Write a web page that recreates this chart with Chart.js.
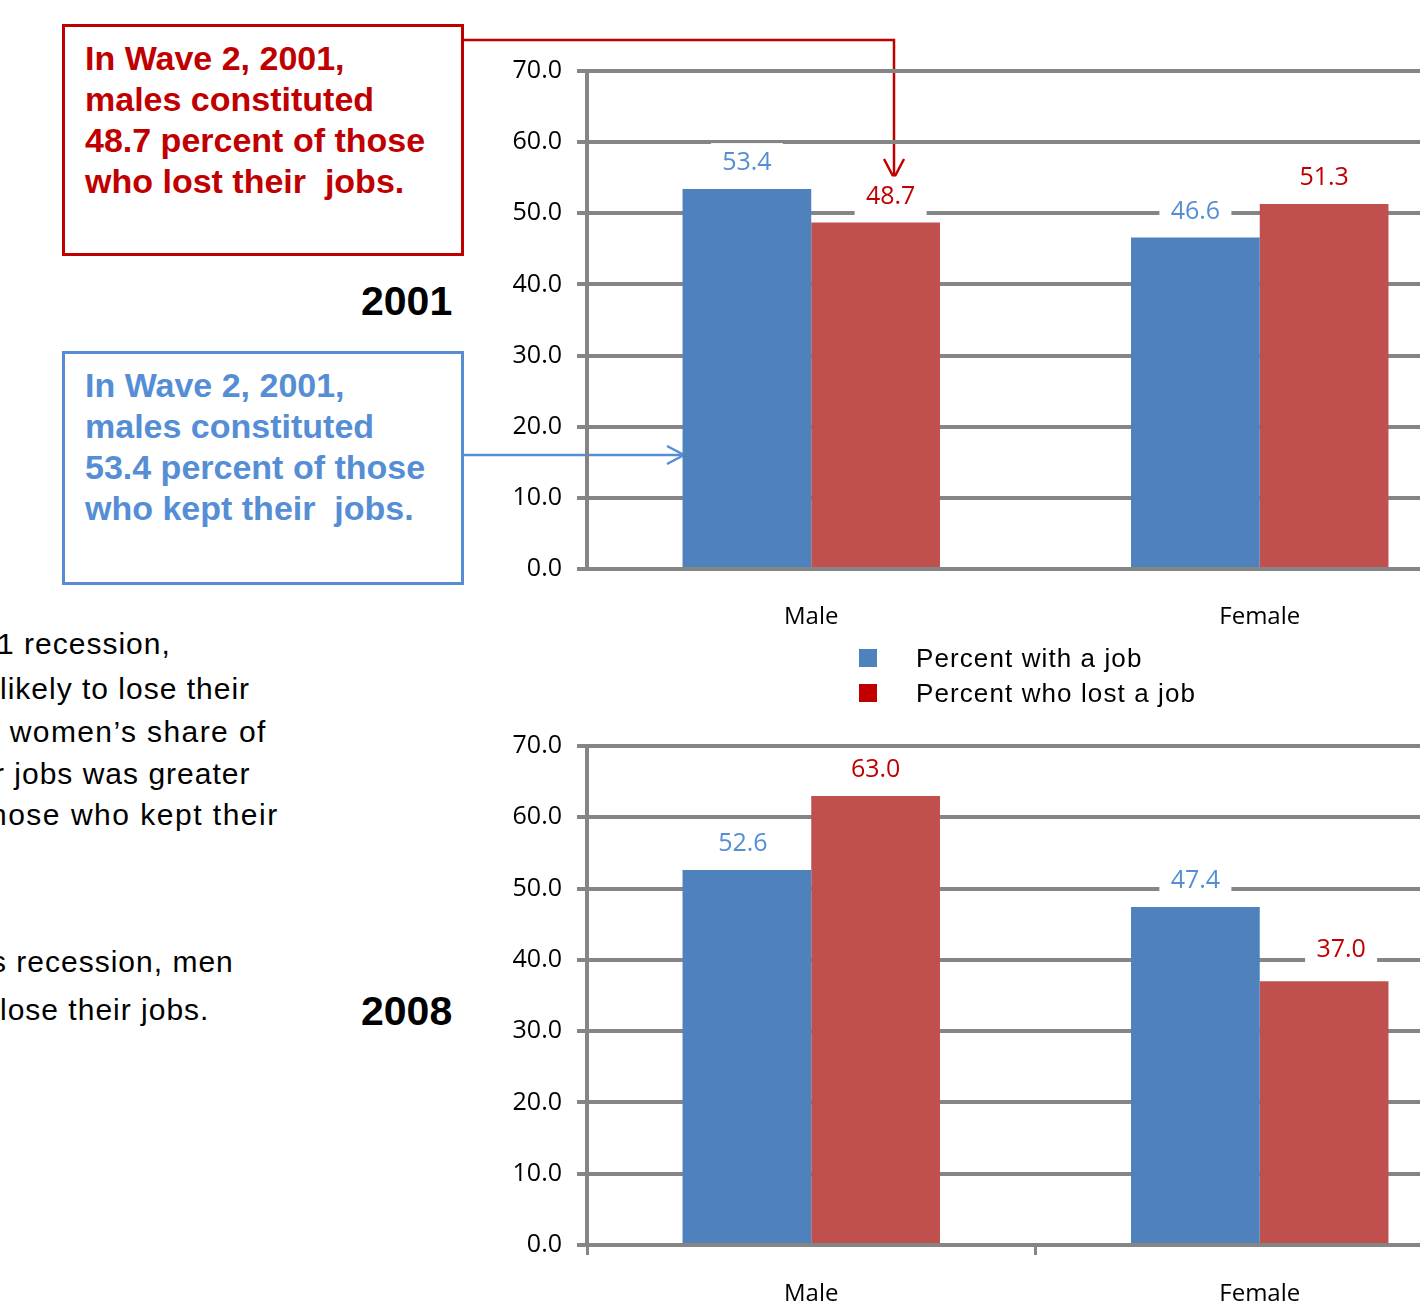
<!DOCTYPE html>
<html>
<head>
<meta charset="utf-8">
<script src="https://cdn.jsdelivr.net/npm/chart.js@4/dist/chart.umd.min.js"></script>
<style>
  html, body { margin: 0; padding: 0; background: #fff; width: 1420px; height: 1303px; overflow: hidden; position: relative; }
  .box { position: absolute; box-sizing: border-box; border: 3px solid; font-family: "Liberation Sans", Arial, sans-serif; font-weight: bold; font-size: 34px; line-height: 41px; padding: 11px 0 0 20px; white-space: nowrap; }
  #boxLost { left: 62px; top: 24px; width: 402px; height: 232px; border-color: #c00000; color: #c00000; }
  #boxKept { left: 62px; top: 351px; width: 402px; height: 234px; border-color: #558ed5; color: #558ed5; }
  .year { position: absolute; font-family: "Liberation Sans", Arial, sans-serif; font-weight: bold; font-size: 41px; color: #000; }
  .para { position: absolute; font-family: "Liberation Sans", Arial, sans-serif; font-size: 30px; letter-spacing: 1px; color: #000; white-space: pre; line-height: 1; }
  canvas.chart { position: absolute; left: 481px; }
  #legend { position: absolute; left: 859px; top: 646px; font-family: "Liberation Sans", Arial, sans-serif; font-size: 26px; letter-spacing: 1.1px; color: #000; }
  #legend .item { position: relative; height: 35px; }
  #legend .sw { position: absolute; left: 0; top: 3px; width: 18px; height: 18px; }
  #legend .tx { position: absolute; left: 57px; top: -3px; white-space: nowrap; }
  svg#ann { position: absolute; left: 0; top: 0; }
</style>
</head>
<body>
<div class="box" id="boxLost">In Wave 2, 2001,<br>males constituted<br>48.7 percent of those<br>who lost their&nbsp; jobs.</div>
<div class="box" id="boxKept">In Wave 2, 2001,<br>males constituted<br>53.4 percent of those<br>who kept their&nbsp; jobs.</div>
<div class="year" style="left:361px; top:278px;">2001</div>
<div class="year" style="left:361px; top:988px;">2008</div>

<div class="para" style="left:-3px; top:629px;">1 recession,</div>
<div class="para" style="left:0px; top:674px;">likely to lose their</div>
<div class="para" style="left:0px; top:717px; letter-spacing:1.4px;"> women’s share of</div>
<div class="para" style="left:-6px; top:759px;">r jobs was greater</div>
<div class="para" style="left:-10px; top:800px; letter-spacing:1.5px;">hose who kept their</div>
<div class="para" style="left:-9px; top:947px;">s recession, men</div>
<div class="para" style="left:0px; top:995px;">lose their jobs.</div>

<svg id="ann" width="1420" height="1303">
  <g fill="none" stroke="#c00000" stroke-width="2.5">
    <polyline points="463,40 894,40 894,178"/>
    <polyline points="884,159 894,178 904,159"/>
  </g>
  <g fill="none" stroke="#558ed5" stroke-width="2.5">
    <polyline points="463,455 684,455"/>
    <polyline points="667,446 684,455 667,464"/>
  </g>
</svg>

<canvas class="chart" id="c2001" style="top:0px;"></canvas>
<div id="legend"></div>
<canvas class="chart" id="c2008" style="top:660px;"></canvas>

<script>
// Categories and series
const categories = ['Male', 'Female'];
const seriesNames = ['Percent with a job', 'Percent who lost a job'];
const withJob2001 = [53.4, 46.6];
const lostJob2001 = [48.7, 51.3];
const withJob2008 = [52.6, 47.4];
const lostJob2008 = [63.0, 37.0];
const yTicks = [0, 10, 20, 30, 40, 50, 60, 70];

const barColors = ['#4f81bd', '#c0504d'];
const legendColors = ['#4f81bd', '#c00000'];
const labelColors = ['#558ed5', '#c00000'];

const FONT = '"Open Sans", "DejaVu Sans", sans-serif';

// White-backed value labels above each bar
const valueLabels = {
  id: 'valueLabels',
  afterDatasetsDraw(chart, args, opts) {
    const ctx = chart.ctx;
    ctx.save();
    ctx.font = '25px ' + FONT;
    ctx.textAlign = 'center';
    ctx.textBaseline = 'middle';
    chart.data.datasets.forEach((ds, di) => {
      const meta = chart.getDatasetMeta(di);
      meta.data.forEach((bar, i) => {
        const nudge = (opts.nudge && opts.nudge[di] && opts.nudge[di][i]) || [0, 0];
        const x = bar.x + nudge[0];
        const y = bar.y - 26 + nudge[1];
        const txt = ds.data[i].toFixed(1);
        ctx.fillStyle = '#ffffff';
        ctx.fillRect(x - 36, y - 20, 72, 40);
        ctx.fillStyle = labelColors[di];
        ctx.fillText(txt, x, y);
      });
    });
    ctx.restore();
  }
};

function makeChart(id, heightPx, padTop, xAxisHeight, labelPad, withJob, lostJob, showXTicks, nudge) {
  const canvas = document.getElementById(id);
  canvas.style.width = '1010px';
  canvas.style.height = heightPx + 'px';
  canvas.width = 1010;
  canvas.height = heightPx;
  return new Chart(canvas, {
    type: 'bar',
    data: {
      labels: categories,
      datasets: [
        { label: seriesNames[0], data: withJob, backgroundColor: barColors[0] },
        { label: seriesNames[1], data: lostJob, backgroundColor: barColors[1] }
      ]
    },
    options: {
      responsive: false,
      animation: false,
      maintainAspectRatio: false,
      layout: { padding: { top: padTop, right: 7, left: 0, bottom: 0 } },
      plugins: {
        legend: { display: false },
        tooltip: { enabled: false },
        valueLabels: { nudge: nudge }
      },
      datasets: { bar: { categoryPercentage: 0.574, barPercentage: 1.0, borderWidth: 0 } },
      scales: {
        x: {
          offset: true,
          grid: {
            display: showXTicks,
            drawOnChartArea: false,
            drawTicks: true,
            tickLength: 10,
            color: '#858585',
            lineWidth: 3,
            offset: true
          },
          border: { display: false },
          ticks: { color: '#000', font: { family: FONT, size: 24 }, padding: labelPad },
          afterFit(s) { s.height = xAxisHeight; }
        },
        y: {
          min: 0,
          max: 70,
          afterBuildTicks(s) { s.ticks = yTicks.map(v => ({ value: v })); },
          grid: { color: '#858585', lineWidth: 4, tickLength: 10, drawTicks: true },
          border: { display: true, color: '#858585', width: 4 },
          ticks: {
            color: '#000',
            font: { family: FONT, size: 25 },
            padding: 15,
            callback: v => Number(v).toFixed(1)
          },
          afterFit(s) { s.width = 106; }
        }
      }
    },
    plugins: [valueLabels]
  });
}

makeChart('c2001', 650, 71, 81, 24, withJob2001, lostJob2001, false, [[[0, 0], [0, 0]], [[15, 0], [0, 0]]]);
makeChart('c2008', 643, 86, 58, 25, withJob2008, lostJob2008, true, [[[-4, 0], [0, 0]], [[0, 0], [17, -5]]]);

// Legend built from the series
const legend = document.getElementById('legend');
seriesNames.forEach((name, i) => {
  const item = document.createElement('div');
  item.className = 'item';
  const sw = document.createElement('div');
  sw.className = 'sw';
  sw.style.background = legendColors[i];
  const tx = document.createElement('div');
  tx.className = 'tx';
  tx.textContent = name;
  item.appendChild(sw);
  item.appendChild(tx);
  legend.appendChild(item);
});
</script>
</body>
</html>
